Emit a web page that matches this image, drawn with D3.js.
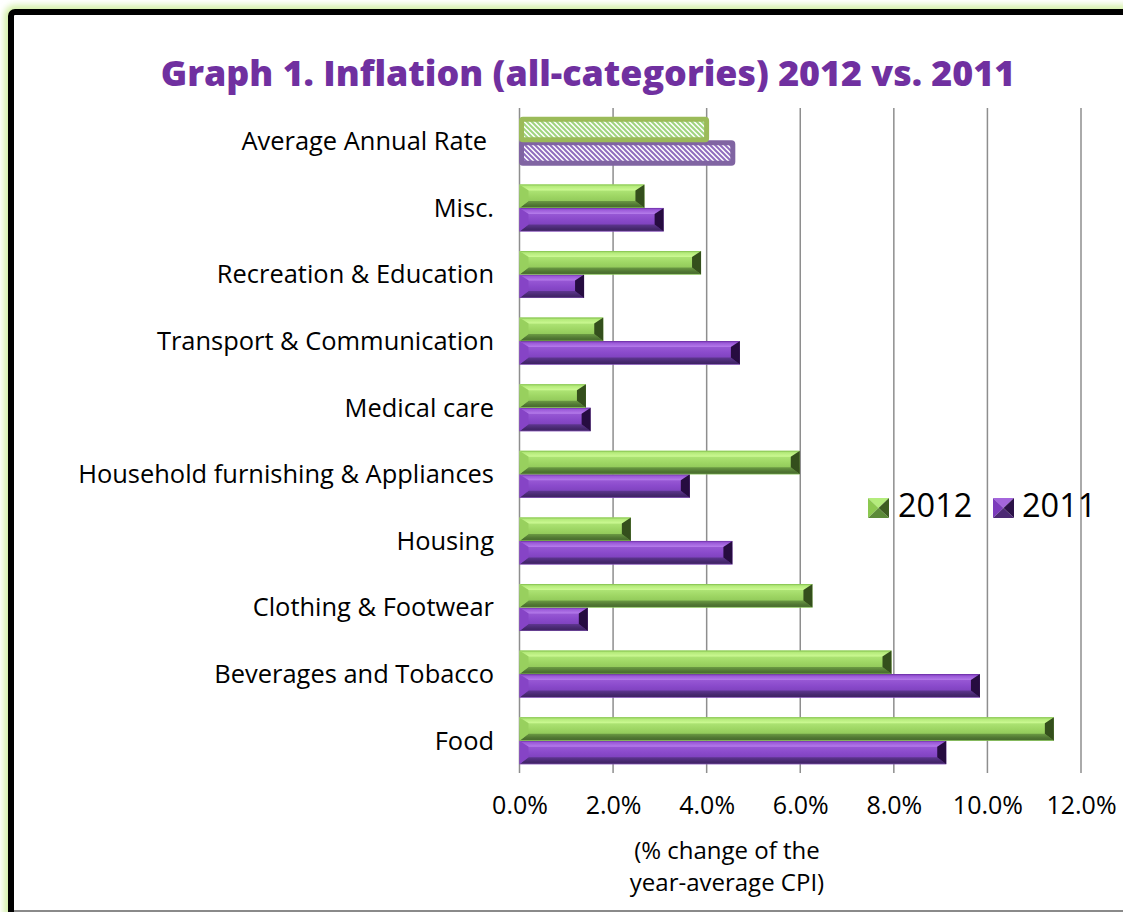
<!DOCTYPE html>
<html>
<head>
<meta charset="utf-8">
<script src="https://cdn.jsdelivr.net/npm/d3@7"></script>
<style>
  body { margin: 0; background: #fff; }
  svg { display: block; }
  text { font-family: "Open Sans", "Noto Sans", sans-serif; }
</style>
</head>
<body>
<svg id="chart" width="1123" height="912"></svg>
<script>
// Categories listed top to bottom
const categories = [
  "Average Annual Rate",
  "Misc.",
  "Recreation & Education",
  "Transport & Communication",
  "Medical care",
  "Household furnishing & Appliances",
  "Housing",
  "Clothing & Footwear",
  "Beverages and Tobacco",
  "Food"
];
// % change of the year-average CPI
const values2012 = [4.02, 2.67, 3.88, 1.79, 1.42, 5.99, 2.38, 6.26, 7.95, 11.42];
const values2011 = [4.58, 3.08, 1.38, 4.71, 1.52, 3.64, 4.55, 1.46, 9.84, 9.12];
const seriesNames = ["2012", "2011"];
const xTicks = [0, 2, 4, 6, 8, 10, 12];
const titleText = "Graph 1. Inflation (all-categories) 2012 vs. 2011";
const axisTitleLines = ["(% change of the", "year-average CPI)"];

const svg = d3.select("#chart");
const defs = svg.append("defs");

// ---- palettes for the bevelled bars ----
const palettes = {
  "2012": {
    id: "g12",
    center: [[0, "#bdf285"], [0.5, "#9ed664"], [1, "#82b94e"]],
    top: [[0, "#7fbd4a"], [0.3, "#b4ea7a"], [1, "#cdfa94"]],
    bottom: [[0, "#6b9a43"], [0.6, "#4f7532"], [0.85, "#4a6e2f"], [1, "#86c25a"]],
    left: "#98d05e", right: "#344f1c",
    outline: "#9bbb59", hatch: "#9fd47e",
    icon: { top: "#b4ec7c", left: "#8cc850", right: "#3e5e22", bottom: "#5b8a38" }
  },
  "2011": {
    id: "g11",
    center: [[0, "#a566de"], [0.5, "#8a4acb"], [1, "#7038ae"]],
    top: [[0, "#6a2ca4"], [0.3, "#9a58d8"], [1, "#b57ceb"]],
    bottom: [[0, "#5e3690"], [0.6, "#46286e"], [0.85, "#402466"], [1, "#8a5ab8"]],
    left: "#8644c6", right: "#260c40",
    outline: "#8064a2", hatch: "#8f6cbd",
    icon: { top: "#a466dc", left: "#7c3cbc", right: "#2c1248", bottom: "#4c2a74" }
  }
};

function vGrad(id, stops) {
  const lg = defs.append("linearGradient").attr("id", id)
    .attr("x1", 0).attr("y1", 0).attr("x2", 0).attr("y2", 1);
  stops.forEach(([o, c]) => lg.append("stop").attr("offset", o).attr("stop-color", c));
}

Object.values(palettes).forEach(p => {
  vGrad(p.id + "c", p.center);
  vGrad(p.id + "t", p.top);
  vGrad(p.id + "b", p.bottom);
  const pat = defs.append("pattern").attr("id", p.id + "hatch")
    .attr("patternUnits", "userSpaceOnUse").attr("width", 5).attr("height", 5);
  pat.append("rect").attr("width", 5).attr("height", 5).attr("fill", "#fff");
  pat.append("path").attr("d", "M0,0L5,5M-1,4L1,6M4,-1L6,1")
    .attr("stroke", p.hatch).attr("stroke-width", 2);
});

// soft glow around the frame
const glow = defs.append("filter").attr("id", "glow")
  .attr("x", "-5%").attr("y", "-5%").attr("width", "110%").attr("height", "110%");
glow.append("feGaussianBlur").attr("stdDeviation", 3);

// ---- frame ----
svg.append("rect").attr("x", 11).attr("y", 12).attr("width", 1140).attr("height", 930)
  .attr("rx", 4).attr("fill", "none").attr("stroke", "#d4f0a8").attr("stroke-width", 14)
  .attr("filter", "url(#glow)");
svg.append("rect").attr("x", 11).attr("y", 12).attr("width", 1140).attr("height", 930)
  .attr("rx", 4).attr("fill", "#fff").attr("stroke", "#000").attr("stroke-width", 6);
svg.append("line").attr("x1", 14).attr("x2", 1123).attr("y1", 911).attr("y2", 911)
  .attr("stroke", "#8a8a8a").attr("stroke-width", 2);

// ---- scales ----
const plot = { left: 519.5, right: 1081, top: 108, bottom: 774 };
const x = d3.scaleLinear().domain([0, 12]).range([plot.left, plot.right]);
const y = d3.scaleBand().domain(categories).range([plot.top, plot.bottom])
  .paddingInner(0.294).paddingOuter(0.147);
const ySub = d3.scaleBand().domain(seriesNames).range([0, y.bandwidth()]);

// ---- title ----
const title = svg.append("text").attr("x", 588).attr("y", 86)
  .attr("text-anchor", "middle").attr("fill", "#7030a0")
  .attr("font-family", "Lato, 'Open Sans', sans-serif").attr("font-weight", 900)
  .attr("font-size", 34).text(titleText);
{
  const w = title.node().getComputedTextLength();
  title.attr("font-size", 34 * 855 / w);
}

// ---- gridlines ----
svg.append("g").selectAll("line").data(xTicks).join("line")
  .attr("x1", d => x(d)).attr("x2", d => x(d))
  .attr("y1", plot.top).attr("y2", plot.bottom - 1)
  .attr("stroke", "#8e8e8e").attr("stroke-width", 1.5);

// ---- x axis labels ----
const xAxis = d3.axisBottom(x).tickValues(xTicks)
  .tickFormat(d => d.toFixed(1) + "%").tickSize(0).tickPadding(0);
const xg = svg.append("g").attr("transform", `translate(0,${plot.bottom + 22})`).call(xAxis);
xg.select(".domain").remove();
xg.selectAll("text").attr("font-family", "'Open Sans', sans-serif")
  .attr("font-size", 25).attr("fill", "#000").attr("dy", "0.71em").attr("y", 0);

// ---- axis title ----
svg.append("g").selectAll("text").data(axisTitleLines).join("text")
  .attr("x", 727).attr("y", (d, i) => 859 + i * 32)
  .attr("text-anchor", "middle").attr("font-size", 24).attr("fill", "#000")
  .text(d => d);

// ---- category labels ----
const labels = svg.append("g").selectAll("text").data(categories).join("text")
  .attr("x", (d, i) => i === 0 ? 487 : 494)
  .attr("y", d => y(d) + y.bandwidth() / 2)
  .attr("dy", "0.35em").attr("text-anchor", "end")
  .attr("font-size", 24).attr("fill", "#000").text(d => d);
{
  const ref = labels.filter(d => d === "Household furnishing & Appliances").node();
  const w = ref.getComputedTextLength();
  labels.attr("font-size", 24 * 416 / w);
}

// ---- bars ----
const rows = categories.map((c, i) => ({ cat: c, avg: i === 0, "2012": values2012[i], "2011": values2011[i] }));

// bar with an angled bevel on all four sides
function bevelBar(g, x0, y0, w, h, p) {
  const bx = Math.min(9, w / 2), bt = Math.min(6, h / 2), bb = Math.min(7, h / 2);
  const x1 = x0 + w, y1 = y0 + h;
  const poly = (pts, fill) => g.append("polygon").attr("points", pts.join(" ")).attr("fill", fill);
  g.append("rect").attr("x", x0).attr("y", y0).attr("width", w).attr("height", h)
    .attr("fill", `url(#${p.id}c)`);
  poly([[x0, y0], [x1, y0], [x1 - bx, y0 + bt], [x0 + bx, y0 + bt]], `url(#${p.id}t)`);
  poly([[x0, y1], [x0 + bx, y1 - bb], [x1 - bx, y1 - bb], [x1, y1]], `url(#${p.id}b)`);
  poly([[x0, y0], [x0 + bx, y0 + bt], [x0 + bx, y1 - bb], [x0, y1]], p.left);
  poly([[x1, y0], [x1 - bx, y0 + bt], [x1 - bx, y1 - bb], [x1, y1]], p.right);
}

const barLayer = svg.append("g");
rows.forEach(r => {
  // 2011 is drawn first so the 2012 outline sits on top where they touch
  ["2011", "2012"].forEach(s => {
    const p = palettes[s];
    const x0 = x(0), w = x(r[s]) - x(0);
    const y0 = y(r.cat) + ySub(s), h = ySub.bandwidth();
    if (r.avg) {
      barLayer.append("rect").attr("x", x0 + 2).attr("y", y0 + 1.5)
        .attr("width", w - 3).attr("height", h - 3)
        .attr("fill", `url(#${p.id}hatch)`)
        .attr("stroke", p.outline).attr("stroke-width", 5).attr("rx", 1.5);
    } else {
      bevelBar(barLayer, x0, y0, w, h, p);
    }
  });
});

// ---- legend ----
const legend = svg.append("g");
const legendItems = [
  { name: "2012", iconX: 868, textX: 898 },
  { name: "2011", iconX: 993, textX: 1022 }
];
legendItems.forEach(it => {
  const c = palettes[it.name].icon;
  const x0 = it.iconX, y0 = 498, w = 21, h = 20, cx = x0 + w / 2, cy = y0 + h / 2;
  const tri = (pts, f) => legend.append("polygon").attr("points", pts.join(" ")).attr("fill", f);
  tri([[x0, y0], [x0 + w, y0], [cx, cy]], c.top);
  tri([[x0, y0], [cx, cy], [x0, y0 + h]], c.left);
  tri([[x0 + w, y0], [x0 + w, y0 + h], [cx, cy]], c.right);
  tri([[x0, y0 + h], [cx, cy], [x0 + w, y0 + h]], c.bottom);
  legend.append("text").attr("x", it.textX).attr("y", 517)
    .attr("font-size", 32.5).attr("fill", "#000").text(it.name);
});
</script>
</body>
</html>
